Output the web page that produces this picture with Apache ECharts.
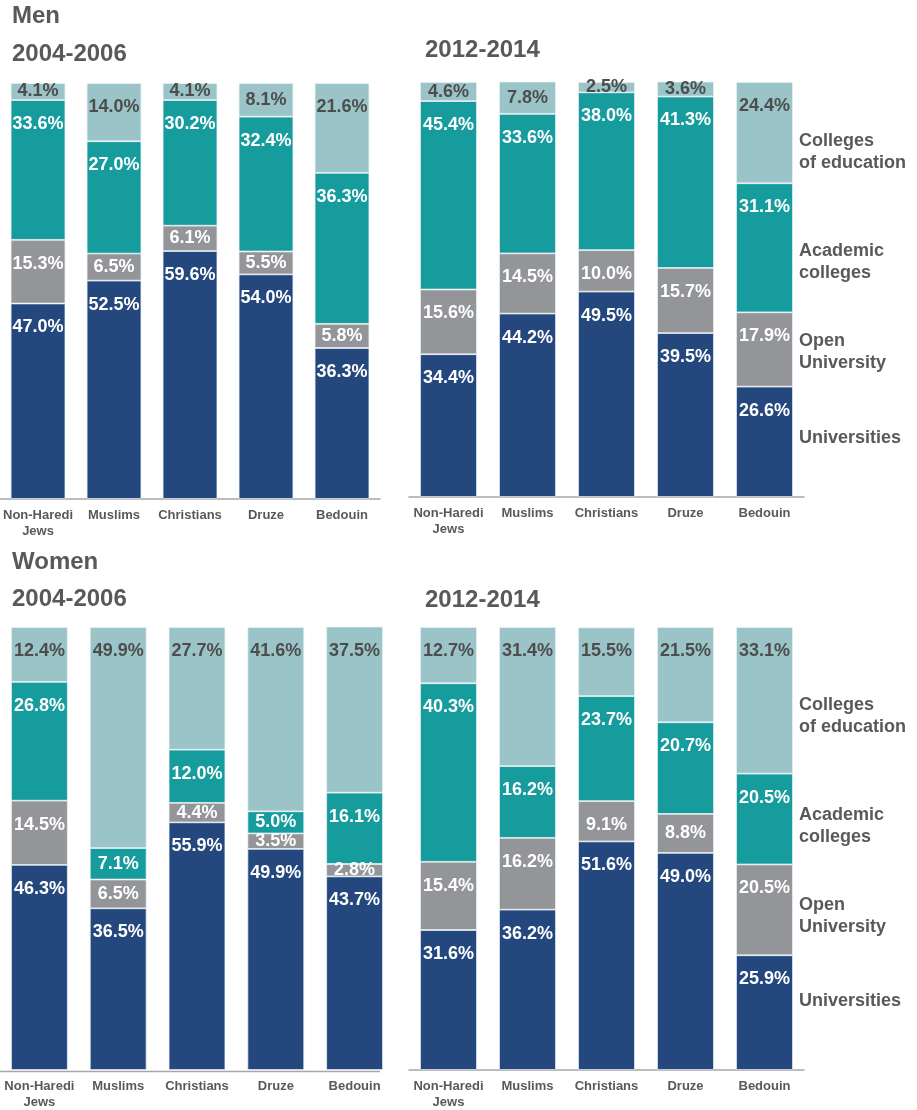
<!DOCTYPE html>
<html>
<head>
<meta charset="utf-8">
<script src="https://cdn.jsdelivr.net/npm/echarts@6/dist/echarts.min.js"></script>
<style>
html,body{margin:0;padding:0;background:#fff;}
#chart{width:917px;height:1110px;}
</style>
</head>
<body>
<div id="chart"></div>
<script>
// ---- Data ----
const categories = ['Non-Haredi\nJews', 'Muslims', 'Christians', 'Druze', 'Bedouin'];
const seriesNames = ['Universities', 'Open\nUniversity', 'Academic\ncolleges', 'Colleges\nof education'];
const panelTitles = ['2004-2006', '2012-2014', '2004-2006', '2012-2014'];
const groupTitles = ['Men', 'Women'];

const men0406Univ = [47.0, 52.5, 59.6, 54.0, 36.3];
const men0406Open = [15.3, 6.5, 6.1, 5.5, 5.8];
const men0406Acad = [33.6, 27.0, 30.2, 32.4, 36.3];
const men0406Educ = [4.1, 14.0, 4.1, 8.1, 21.6];

const men1214Univ = [34.4, 44.2, 49.5, 39.5, 26.6];
const men1214Open = [15.6, 14.5, 10.0, 15.7, 17.9];
const men1214Acad = [45.4, 33.6, 38.0, 41.3, 31.1];
const men1214Educ = [4.6, 7.8, 2.5, 3.6, 24.4];

const women0406Univ = [46.3, 36.5, 55.9, 49.9, 43.7];
const women0406Open = [14.5, 6.5, 4.4, 3.5, 2.8];
const women0406Acad = [26.8, 7.1, 12.0, 5.0, 16.1];
const women0406Educ = [12.4, 49.9, 27.7, 41.6, 37.5];

const women1214Univ = [31.6, 36.2, 51.6, 49.0, 25.9];
const women1214Open = [15.4, 16.2, 9.1, 8.8, 20.5];
const women1214Acad = [40.3, 16.2, 23.7, 20.7, 20.5];
const women1214Educ = [12.7, 31.4, 15.5, 21.5, 33.1];

const panels = [
  [men0406Univ, men0406Open, men0406Acad, men0406Educ],
  [men1214Univ, men1214Open, men1214Acad, men1214Educ],
  [women0406Univ, women0406Open, women0406Acad, women0406Educ],
  [women1214Univ, women1214Open, women1214Acad, women1214Educ]
];

// ---- Styling ----
const FONT = '"Liberation Sans", Arial, Helvetica, sans-serif';
const colors = ['#24487e', '#939598', '#169c9d', '#9ac4c7'];
const labelColors = ['#ffffff', '#ffffff', '#ffffff', '#4d4d4d'];
const TXT = '#595959';
const AXIS = '#a6a6a6';

const grids = [
  {left: 0, top: 83, width: 380, height: 416},
  {left: 409, top: 82, width: 395, height: 415},
  {left: -1, top: 627, width: 395, height: 444},
  {left: 409, top: 627, width: 395, height: 444}
];

const xAxes = grids.map((g, i) => ({
  type: 'category', gridIndex: i, data: categories,
  axisTick: {show: false},
  axisLine: {show: i !== 2, lineStyle: {color: AXIS, width: 1.5}},
  axisLabel: {interval: 0, margin: 8, fontFamily: FONT, fontWeight: 'bold', fontSize: 13, color: TXT, lineHeight: 16}
}));
const yAxes = grids.map((g, i) => ({
  type: 'value', gridIndex: i, min: 0, max: 100, show: false, splitLine: {show: false}
}));

const series = [];
panels.forEach((panel, p) => {
  panel.forEach((vals, s) => {
    series.push({
      type: 'bar', name: seriesNames[s], xAxisIndex: p, yAxisIndex: p, stack: 'p' + p,
      barCategoryGap: '28%',
      itemStyle: {color: colors[s], borderColor: 'rgba(235,242,246,0.9)', borderWidth: 0.8},
      data: vals.map(v => {
        const px = v / 100 * grids[p].height;
        const big = px > 40;
        return {
          value: v,
          label: big ? {position: 'insideTop', distance: 15} : {position: 'inside'}
        };
      }),
      label: {
        show: true, formatter: d => d.value.toFixed(1) + '%',
        fontFamily: FONT, fontWeight: 'bold', fontSize: 18, color: labelColors[s]
      },
      emphasis: {disabled: true}
    });
  });
});

const textStyleTitle = {fontFamily: FONT, fontWeight: 'bold', fontSize: 24, fill: TXT};
const legendStyle = {fontFamily: FONT, fontWeight: 'bold', fontSize: 18, fill: TXT, lineHeight: 22};

const graphic = [
  {type: 'text', left: 12, top: 4, style: Object.assign({text: groupTitles[0]}, textStyleTitle)},
  {type: 'text', left: 12, top: 42, style: Object.assign({text: panelTitles[0]}, textStyleTitle)},
  {type: 'text', left: 425, top: 38, style: Object.assign({text: panelTitles[1]}, textStyleTitle)},
  {type: 'text', left: 12, top: 550, style: Object.assign({text: groupTitles[1]}, textStyleTitle)},
  {type: 'text', left: 12, top: 587, style: Object.assign({text: panelTitles[2]}, textStyleTitle)},
  {type: 'text', left: 425, top: 588, style: Object.assign({text: panelTitles[3]}, textStyleTitle)},
  // baseline of the lower-left panel, which stops at the panel edge
  {type: 'line', shape: {x1: 0, y1: 1071.5, x2: 380, y2: 1071.5}, style: {stroke: AXIS, lineWidth: 1.5}, z: 10}
];
// legend-style labels at right of each 2012-2014 panel
const legendY = [[438, 352, 262, 152], [1001, 916, 826, 716]];
legendY.forEach(ys => {
  ys.forEach((y, s) => {
    graphic.push({type: 'text', x: 799, y: y, style: Object.assign({text: seriesNames[s], verticalAlign: 'middle', align: 'left'}, legendStyle)});
  });
});

const chart = echarts.init(document.getElementById('chart'), null, {renderer: 'canvas'});
chart.setOption({
  animation: false,
  backgroundColor: '#ffffff',
  grid: grids,
  xAxis: xAxes,
  yAxis: yAxes,
  series: series,
  graphic: graphic
});
</script>
</body>
</html>
